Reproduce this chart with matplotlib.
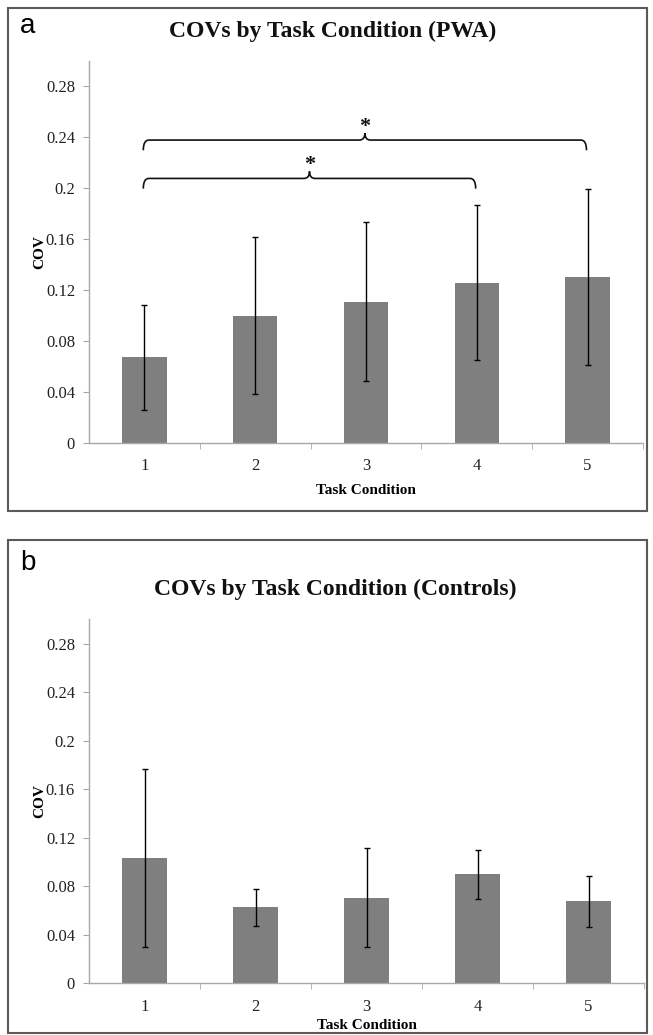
import numpy as np
import matplotlib
matplotlib.use("Agg")
import matplotlib.pyplot as plt
from matplotlib.patches import Rectangle
from matplotlib.path import Path
from matplotlib.patches import PathPatch

# data
conditions = [1, 2, 3, 4, 5]
pwa_cov = [0.0672, 0.1000, 0.1108, 0.1258, 0.1300]
pwa_sd = [0.0412, 0.0617, 0.0622, 0.0608, 0.0692]
ctrl_cov = [0.1034, 0.0626, 0.0705, 0.0898, 0.0675]
ctrl_sd = [0.0732, 0.0155, 0.0406, 0.0203, 0.0213]
y_ticks = [0, 0.04, 0.08, 0.12, 0.16, 0.2, 0.24, 0.28]
y_tick_labels = ["0", "0.04", "0.08", "0.12", "0.16", "0.2", "0.24", "0.28"]
# significance brackets for PWA: (from condition, to condition, height)
pwa_brackets = [(1, 5, 0.2376), (1, 4, 0.2075)]

serif = "Liberation Serif"
sans = "Liberation Sans"
bar_color = "#7f7f7f"
axis_color = "#a8a8a8"
text_color = "#222222"


def brace(ax, x1, x2, y, drop=0.008, rise=0.0055, dx=0.05):
    xm = (x1 + x2) / 2
    verts = [
        (x1, y - drop), (x1, y), (x1 + dx, y),
        (xm - dx, y), (xm, y), (xm, y + rise),
        (xm, y), (xm + dx, y),
        (x2 - dx, y), (x2, y), (x2, y - drop),
    ]
    codes = [
        Path.MOVETO, Path.CURVE3, Path.CURVE3,
        Path.LINETO, Path.CURVE3, Path.CURVE3,
        Path.CURVE3, Path.CURVE3,
        Path.LINETO, Path.CURVE3, Path.CURVE3,
    ]
    ax.add_patch(PathPatch(Path(verts, codes), fill=False, lw=1.2, color="#111111"))
    ax.text(xm, y + rise - 0.003, "*", ha="center", va="bottom",
            fontsize=16, fontweight="bold", family=serif, color="#111111")


def draw_panel(ax, values, errs, xpad):
    ax.bar(conditions, values, width=0.4, color=bar_color, zorder=2)
    ax.errorbar(conditions, values, yerr=errs, fmt="none", ecolor="black",
                elinewidth=1.0, capsize=2.2, capthick=1.0, zorder=3)
    ax.set_xlim(0.5, 5.5)
    ax.set_ylim(0, 0.30)
    ax.set_yticks(y_ticks)
    ax.set_yticklabels(y_tick_labels)
    ax.set_xticks(conditions)
    ax.set_xticks([1.5, 2.5, 3.5, 4.5, 5.5], minor=True)
    ax.tick_params(axis="x", which="major", length=0, pad=11)
    ax.tick_params(axis="x", which="minor", length=4, color=axis_color, direction="out")
    ax.tick_params(axis="y", length=4, color=axis_color, direction="out", pad=6)
    for lab in ax.get_xticklabels() + ax.get_yticklabels():
        lab.set_family(serif)
        lab.set_fontsize(12)
        lab.set_color(text_color)
    for side in ["top", "right"]:
        ax.spines[side].set_visible(False)
    for side in ["left", "bottom"]:
        ax.spines[side].set_color(axis_color)
        ax.spines[side].set_linewidth(1.0)
    ax.set_ylabel("COV", family=serif, fontsize=11, fontweight="bold", labelpad=0)
    ax.set_xlabel("Task Condition", family=serif, fontsize=11, fontweight="bold", labelpad=xpad)


fig = plt.figure(figsize=(6.53, 10.35), dpi=100)

ax1 = fig.add_axes([89 / 653, 1 - 443 / 1035, 554 / 653, 382.5 / 1035])
draw_panel(ax1, pwa_cov, pwa_sd, 7)
for x1, x2, yb in pwa_brackets:
    brace(ax1, x1 - 0.01, x2 - 0.01, yb)

ax2 = fig.add_axes([89 / 653, 1 - 983.3 / 1035, 555 / 653, 364 / 1035])
draw_panel(ax2, ctrl_cov, ctrl_sd, 3)

# titles and panel letters placed in figure coordinates
fig.text(333 / 653, 1 - 31 / 1035, "COVs by Task Condition (PWA)", ha="center", va="center",
         family=serif, fontsize=17, fontweight="bold", color="#111111")
fig.text(335 / 653, 1 - 589 / 1035, "COVs by Task Condition (Controls)", ha="center", va="center",
         family=serif, fontsize=17, fontweight="bold", color="#111111")
fig.text(20 / 653, 1 - 26 / 1035, "a", ha="left", va="center", family=sans, fontsize=20)
fig.text(20 / 653, 1 - 563 / 1035, "b", ha="left", va="center", family=sans, fontsize=20)

# panel frames
fig.patches.append(Rectangle((8 / 653, 1 - 511 / 1035), 639 / 653, 503 / 1035,
                             transform=fig.transFigure, fill=False, ec="#5a5a5a", lw=1.5))
fig.patches.append(Rectangle((8 / 653, 1 - 1033 / 1035), 639 / 653, 493 / 1035,
                             transform=fig.transFigure, fill=False, ec="#5a5a5a", lw=1.5))

fig.savefig("out.png", dpi=100)
